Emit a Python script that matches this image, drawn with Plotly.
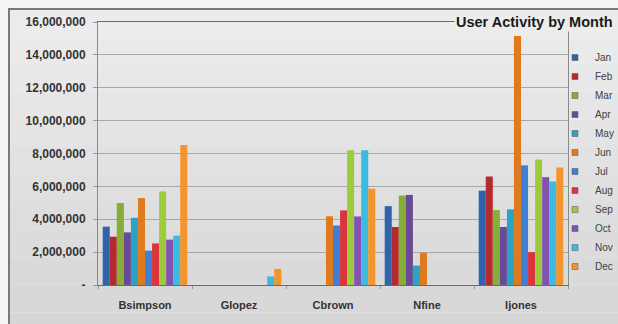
import plotly.graph_objects as go

users = ["Bsimpson", "Glopez", "Cbrown", "Nfine", "Ijones"]
months = ["Jan", "Feb", "Mar", "Apr", "May", "Jun", "Jul", "Aug", "Sep", "Oct", "Nov", "Dec"]

# values per month, one entry per user (Bsimpson, Glopez, Cbrown, Nfine, Ijones)
jan = [3550000, 0, 0, 4800000, 5740000]
feb = [2940000, 0, 0, 3530000, 6600000]
mar = [4990000, 0, 0, 5440000, 4560000]
apr = [3200000, 0, 0, 5480000, 3530000]
may = [4090000, 0, 0, 1180000, 4600000]
jun = [5290000, 0, 4180000, 1960000, 15150000]
jul = [2090000, 0, 3620000, 0, 7280000]
aug = [2530000, 0, 4540000, 0, 2000000]
sep = [5690000, 0, 8200000, 0, 7630000]
oct_ = [2760000, 0, 4170000, 0, 6560000]
nov = [3000000, 520000, 8200000, 0, 6300000]
dec = [8520000, 980000, 5860000, 0, 7150000]

series = [jan, feb, mar, apr, may, jun, jul, aug, sep, oct_, nov, dec]
colors = ["#2f64ad", "#b52a2e", "#86ad37", "#6a4997", "#2aa3c4", "#e07a1e",
          "#3f7fd6", "#d8363c", "#9ccc3e", "#8253b3", "#3bbbe0", "#f3952c"]

ytick_vals = [0, 2000000, 4000000, 6000000, 8000000, 10000000, 12000000, 14000000, 16000000]
ytick_text = ["-", "2,000,000", "4,000,000", "6,000,000", "8,000,000", "10,000,000",
              "12,000,000", "14,000,000", "16,000,000"]

FONT = "Liberation Sans, Arial, sans-serif"

fig = go.Figure()
for m, vals, c in zip(months, series, colors):
    fig.add_trace(go.Bar(name=m, x=users, y=vals, showlegend=False,
                         marker=dict(color=c, line=dict(width=0))))
# legend entries with small square keys
for m, c in zip(months, colors):
    fig.add_trace(go.Scatter(name=m, x=[None], y=[None], mode="markers",
                             marker=dict(symbol="square", size=6, color=c,
                                         line=dict(width=0.5, color="#555555")),
                             showlegend=True))

# pixel -> paper helpers for decoration
L, R, T, B = 98, 568, 22, 285
def px_x(px):
    return (px - L) / (R - L)
def px_y(py):
    return (B - py) / (B - T)

shapes = []
# gradient background inside frame
n = 12
top_c = (236, 236, 236)
bot_c = (214, 214, 214)
for i in range(n):
    y0p = 9 + (340 - 9) * i / n
    y1p = 9 + (340 - 9) * (i + 1) / n
    f = i / (n - 1)
    col = tuple(int(top_c[k] + (bot_c[k] - top_c[k]) * f) for k in range(3))
    shapes.append(dict(type="rect", xref="paper", yref="paper", layer="below",
                       x0=px_x(9), x1=px_x(700), y0=px_y(y1p), y1=px_y(y0p),
                       fillcolor="rgb(%d,%d,%d)" % col, line=dict(width=0)))
# frame
shapes.append(dict(type="rect", xref="paper", yref="paper", layer="below",
                   x0=px_x(9), x1=px_x(700), y0=px_y(400), y1=px_y(9),
                   fillcolor="rgba(0,0,0,0)", line=dict(color="#7a7a7a", width=2)))

fig.update_layout(
    width=618, height=324,
    margin=dict(l=L, r=618 - R, t=T, b=324 - B, autoexpand=False),
    paper_bgcolor="#f4f4f4",
    plot_bgcolor="rgba(0,0,0,0)",
    barmode="group",
    bargap=0.1,
    bargroupgap=0,
    shapes=shapes,
    font=dict(family=FONT, color="#333333"),
    showlegend=True,
    legend=dict(x=px_x(555), xanchor="left", y=px_y(43), yanchor="top",
                bgcolor="rgba(0,0,0,0)", font=dict(size=10, color="#404040", family=FONT),
                itemwidth=30, tracegroupgap=0, itemsizing="trace"),
    xaxis=dict(showline=True, linecolor="#6a6a6a", linewidth=1, mirror=True,
               ticks="outside", ticklen=3, tickcolor="#999999", tickson="boundaries",
               ticklabelstandoff=10, automargin=False,
               tickfont=dict(size=11, color="#333333", family=FONT, weight="bold"),
               showgrid=False),
    yaxis=dict(range=[0, 16000000], tickvals=ytick_vals, ticktext=ytick_text,
               showline=True, linecolor="#8a8a8a", linewidth=1, mirror=True,
               gridcolor="#a8a8a8", gridwidth=1, zeroline=False, automargin=False,
               ticks="outside", ticklen=4, tickcolor="#999999", ticklabelstandoff=5,
               tickfont=dict(size=12, color="#333333", family=FONT, weight="bold")),
    annotations=[dict(text="<b>User Activity by Month</b>", xref="paper", yref="paper",
                      x=px_x(454), y=px_y(22), xanchor="left", yanchor="middle",
                      showarrow=False, bgcolor="#ececec", borderpad=1,
                      font=dict(size=14.5, color="#1a1a1a", family=FONT))],
)

fig.write_html("out.html", config={"displayModeBar": False},
               post_script="document.body.style.margin='0';")
